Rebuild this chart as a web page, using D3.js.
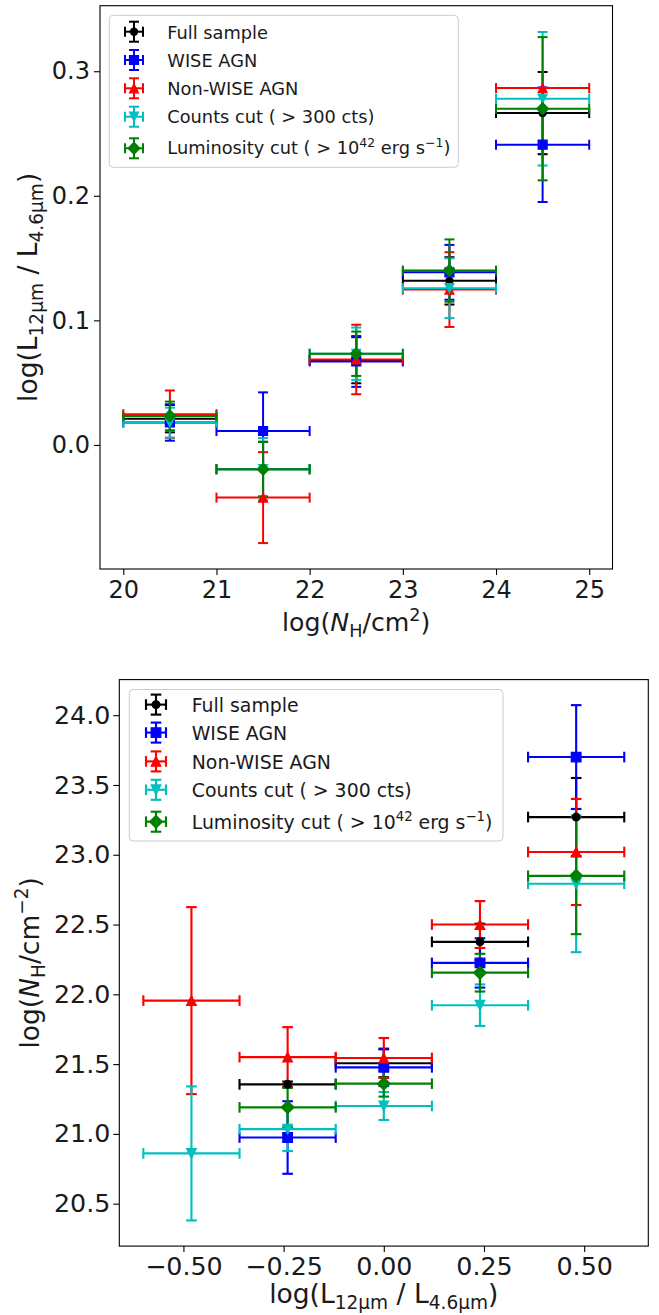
<!DOCTYPE html>
<html><head><meta charset="utf-8">
<script src="https://cdn.jsdelivr.net/npm/d3@7"></script>
<style>body{margin:0;background:#fff} svg{display:block} text{font-family:"DejaVu Sans",sans-serif}</style>
</head><body><svg id="c" width="659" height="1315"></svg>
<script>
// ---------- shared series definitions ----------
const seriesNames = ["Full sample", "WISE AGN", "Non-WISE AGN", "Counts cut", "Luminosity cut"];
const seriesColors = ["#000000", "#0000ff", "#ff0000", "#00bfbf", "#008000"];
const seriesMarkers = ["dot", "square", "triUp", "triDown", "diamond"];

// ---------- top panel: log(L12/L4.6) vs log NH ----------
const topXTicks = [20, 21, 22, 23, 24, 25];
const topYTicks = [0.0, 0.1, 0.2, 0.3];
const topNH = [20.5, 21.5, 22.5, 23.5, 24.5];
const topNHErr = [0.5, 0.5, 0.5, 0.5, 0.5];
const topFull = [0.0211, -0.0195, 0.0680, 0.1317, 0.2664];
const topFullErr = [0.0110, 0.0220, 0.0185, 0.0190, 0.0330];
const topWise = [0.0180, 0.0112, 0.0670, 0.1386, 0.2410];
const topWiseErr = [0.0146, 0.0310, 0.0204, 0.0220, 0.0460];
const topNonWise = [0.0247, -0.0423, 0.0686, 0.1247, 0.2865];
const topNonWiseErr = [0.0190, 0.0365, 0.0279, 0.0300, 0.0];
const topCounts = [0.0179, -0.0195, 0.0732, 0.1258, 0.2779];
const topCountsErr = [0.0120, 0.0250, 0.0210, 0.0240, 0.0536];
const topLum = [0.0233, -0.0195, 0.0732, 0.1400, 0.2699];
const topLumErr = [0.0115, 0.0220, 0.0178, 0.0250, 0.0575];

// ---------- bottom panel: log NH vs log(L12/L4.6) ----------
const botXTicks = [-0.5, -0.25, 0.0, 0.25, 0.5];
const botYTicks = [20.5, 21.0, 21.5, 22.0, 22.5, 23.0, 23.5, 24.0];
const botXFull = [-0.24, 0.0, 0.24, 0.48];
const botFull = [21.355, 21.506, 22.376, 23.270];
const botFullErr = [0.02, 0.10, 0.13, 0.28];
const botXWise = [-0.24, 0.0, 0.24, 0.48];
const botWise = [20.974, 21.477, 22.225, 23.700];
const botWiseErr = [0.260, 0.134, 0.177, 0.372];
const botXNonWise = [-0.48, -0.24, 0.0, 0.24, 0.48];
const botNonWise = [21.955, 21.550, 21.544, 22.500, 23.020];
const botNonWiseErr = [0.670, 0.215, 0.143, 0.168, 0.380];
const botXCounts = [-0.48, -0.24, 0.0, 0.24, 0.48];
const botCounts = [20.860, 21.034, 21.200, 21.922, 22.792];
const botCountsErr = [0.480, 0.157, 0.100, 0.149, 0.490];
const botXLum = [-0.24, 0.0, 0.24, 0.48];
const botLum = [21.190, 21.360, 22.155, 22.849];
const botLumErr = [0.140, 0.093, 0.135, 0.418];
const botXErr = 0.12;

const svg = d3.select("#c");

function rich(textSel, parts, fs) {
  let cur = 0;
  parts.forEach(p => {
    const ts = textSel.append("tspan").text(p.t);
    let shift = 0, size = fs;
    if (p.sub) { shift = 0.22 * fs; size = 0.7 * fs; }
    if (p.sup) { shift = -0.40 * fs; size = 0.7 * fs; }
    ts.attr("font-size", size);
    if (shift - cur !== 0) ts.attr("dy", shift - cur);
    cur = shift;
    if (p.it) ts.attr("font-style", "italic");
  });
}

function markerPath(kind, s) {
  if (kind === "square") { const h = s / 2; return `M${-h},${-h}H${h}V${h}H${-h}Z`; }
  if (kind === "triUp") { const h = s / 2; return `M0,${-h}L${h},${h}L${-h},${h}Z`; }
  if (kind === "triDown") { const h = s / 2; return `M0,${h}L${h},${-h}L${-h},${-h}Z`; }
  if (kind === "diamond") { const h = s * 0.66; return `M0,${-h}L${h},0L0,${h}L${-h},0Z`; }
  const r = s * 0.4; return `M${-r},0A${r},${r} 0 1,0 ${r},0A${r},${r} 0 1,0 ${-r},0Z`;
}

function legendLabelParts(i) {
  if (i === 3) return [{t: "Counts cut ( > 300 cts)"}];
  if (i === 4) return [{t: "Luminosity cut ( > 10"}, {t: "42", sup: true}, {t: " erg s"}, {t: "\u22121", sup: true}, {t: ")"}];
  return [{t: seriesNames[i]}];
}

function panel(cfg) {
  const g = svg.append("g");
  const x = d3.scaleLinear().domain(cfg.xDomain).range([cfg.left, cfg.right]);
  const y = d3.scaleLinear().domain(cfg.yDomain).range([cfg.bottom, cfg.top]);
  const sc = cfg.scale;
  const lw = 2.0 * sc, cap = 5 * sc, msize = 9 * sc;

  const xAxis = g.append("g").attr("transform", `translate(0,${cfg.bottom})`)
    .call(d3.axisBottom(x).tickValues(cfg.xTicks).tickSize(6).tickPadding(cfg.xPad).tickFormat(cfg.xFmt));
  const yAxis = g.append("g").attr("transform", `translate(${cfg.left},0)`)
    .call(d3.axisLeft(y).tickValues(cfg.yTicks).tickSize(6).tickPadding(cfg.yPad).tickFormat(cfg.yFmt));
  [xAxis, yAxis].forEach(a => {
    a.select(".domain").remove();
    a.selectAll("line").attr("stroke", "#000").attr("stroke-width", 1.1);
    a.selectAll("text").attr("font-size", cfg.tickFs).attr("fill", "#1a1a1a")
      .attr("font-family", "DejaVu Sans");
  });

  const S = cfg.series;
  S.forEach((s, i) => {
    const col = seriesColors[i];
    const eg = g.append("g").attr("stroke", col).attr("stroke-width", lw).attr("fill", "none");
    s.x.forEach((xv, j) => {
      const yv = s.y[j], xe = s.xe[j], ye = s.ye[j];
      const px = x(xv), py = y(yv);
      const x0 = x(xv - xe), x1 = x(xv + xe), y0 = y(yv - ye), y1 = y(yv + ye);
      eg.append("line").attr("x1", x0).attr("x2", x1).attr("y1", py).attr("y2", py);
      eg.append("line").attr("x1", px).attr("x2", px).attr("y1", y0).attr("y2", y1);
      eg.append("line").attr("x1", x0).attr("x2", x0).attr("y1", py - cap).attr("y2", py + cap);
      eg.append("line").attr("x1", x1).attr("x2", x1).attr("y1", py - cap).attr("y2", py + cap);
      eg.append("line").attr("x1", px - cap).attr("x2", px + cap).attr("y1", y0).attr("y2", y0);
      eg.append("line").attr("x1", px - cap).attr("x2", px + cap).attr("y1", y1).attr("y2", y1);
    });
  });
  S.forEach((s, i) => {
    const col = seriesColors[i];
    g.append("g").selectAll("path").data(s.x.map((xv, j) => [xv, s.y[j]])).join("path")
      .attr("d", markerPath(seriesMarkers[i], msize))
      .attr("transform", d => `translate(${x(d[0])},${y(d[1])})`)
      .attr("fill", col).attr("stroke", col).attr("stroke-width", 1.2 * sc);
  });

  g.append("rect").attr("x", cfg.left).attr("y", cfg.top)
    .attr("width", cfg.right - cfg.left).attr("height", cfg.bottom - cfg.top)
    .attr("fill", "none").attr("stroke", "#000").attr("stroke-width", 1.1);

  const L = cfg.legend;
  g.append("rect").attr("x", L.x0).attr("y", L.y0).attr("width", L.x1 - L.x0).attr("height", L.y1 - L.y0)
    .attr("rx", 4).attr("fill", "#fff").attr("fill-opacity", 0.8).attr("stroke", "#cccccc").attr("stroke-width", 1);
  seriesNames.forEach((n, i) => {
    const col = seriesColors[i];
    const hy = L.rows[i], hx = L.hx;
    const lg = g.append("g").attr("stroke", col).attr("stroke-width", lw).attr("fill", "none");
    lg.append("line").attr("x1", hx - L.hw).attr("x2", hx + L.hw).attr("y1", hy).attr("y2", hy);
    lg.append("line").attr("x1", hx).attr("x2", hx).attr("y1", hy - L.vh).attr("y2", hy + L.vh);
    lg.append("line").attr("x1", hx - L.hw).attr("x2", hx - L.hw).attr("y1", hy - cap).attr("y2", hy + cap);
    lg.append("line").attr("x1", hx + L.hw).attr("x2", hx + L.hw).attr("y1", hy - cap).attr("y2", hy + cap);
    lg.append("line").attr("x1", hx - cap).attr("x2", hx + cap).attr("y1", hy - L.vh).attr("y2", hy - L.vh);
    lg.append("line").attr("x1", hx - cap).attr("x2", hx + cap).attr("y1", hy + L.vh).attr("y2", hy + L.vh);
    g.append("path").attr("d", markerPath(seriesMarkers[i], msize)).attr("transform", `translate(${hx},${hy})`)
      .attr("fill", col).attr("stroke", col).attr("stroke-width", 1.2 * sc);
    const t = g.append("text").attr("x", L.tx).attr("y", L.base[i]).attr("fill", "#1a1a1a");
    rich(t, legendLabelParts(i), L.fs);
  });

  const xl = g.append("text").attr("x", (cfg.left + cfg.right) / 2).attr("y", cfg.xLabelY)
    .attr("text-anchor", "middle").attr("fill", "#1a1a1a");
  rich(xl, cfg.xLabel, cfg.xLabelFs);
  const yl = g.append("text").attr("transform", `translate(${cfg.yLabelX},${(cfg.top + cfg.bottom) / 2}) rotate(-90)`)
    .attr("text-anchor", "middle").attr("fill", "#1a1a1a");
  rich(yl, cfg.yLabel, cfg.yLabelFs);
}

const ratioLabel = [{t: "log(L"}, {t: "12\u03bcm", sub: true}, {t: " / L"}, {t: "4.6\u03bcm", sub: true}, {t: ")"}];

panel({
  left: 100, right: 612.5, top: 5.7, bottom: 569,
  xDomain: [19.75, 25.25], yDomain: [-0.0996, 0.3526],
  xTicks: topXTicks, yTicks: topYTicks,
  xFmt: d3.format("d"), yFmt: d3.format(".1f"),
  xPad: 6, yPad: 4, tickFs: 24, xLabelFs: 25.2, yLabelFs: 26.5, scale: 1.0,
  xLabelY: 631, yLabelX: 37,
  xLabel: [{t: "log("}, {t: "N", it: true}, {t: "H", sub: true}, {t: "/cm"}, {t: "2", sup: true}, {t: ")"}],
  yLabel: ratioLabel,
  series: [
    {x: topNH, xe: topNHErr, y: topFull, ye: topFullErr},
    {x: topNH, xe: topNHErr, y: topWise, ye: topWiseErr},
    {x: topNH, xe: topNHErr, y: topNonWise, ye: topNonWiseErr},
    {x: topNH, xe: topNHErr, y: topCounts, ye: topCountsErr},
    {x: topNH, xe: topNHErr, y: topLum, ye: topLumErr}
  ],
  legend: {x0: 109.3, x1: 458.3, y0: 15.3, y1: 167.3, hx: 134, hw: 9, vh: 10, tx: 167.3, fs: 17.8,
    rows: [31.7, 60, 88.3, 116.7, 148.3], base: [39, 66.8, 95, 123, 154]}
});

const mkX = (xs) => xs.map(() => botXErr);
panel({
  left: 119.3, right: 648.3, top: 679.6, bottom: 1246.1,
  xDomain: [-0.66, 0.66], yDomain: [20.196, 24.255],
  xTicks: botXTicks, yTicks: botYTicks,
  xFmt: d3.format(".2f"), yFmt: d3.format(".1f"),
  xPad: 5, yPad: 3, tickFs: 25.3, xLabelFs: 26.5, yLabelFs: 26.5, scale: 1.065,
  xLabelY: 1303, yLabelX: 39,
  xLabel: ratioLabel,
  yLabel: [{t: "log("}, {t: "N", it: true}, {t: "H", sub: true}, {t: "/cm"}, {t: "\u22122", sup: true}, {t: ")"}],
  series: [
    {x: botXFull, xe: mkX(botXFull), y: botFull, ye: botFullErr},
    {x: botXWise, xe: mkX(botXWise), y: botWise, ye: botWiseErr},
    {x: botXNonWise, xe: mkX(botXNonWise), y: botNonWise, ye: botNonWiseErr},
    {x: botXCounts, xe: mkX(botXCounts), y: botCounts, ye: botCountsErr},
    {x: botXLum, xe: mkX(botXLum), y: botLum, ye: botLumErr}
  ],
  legend: {x0: 129.3, x1: 503, y0: 689.5, y1: 841, hx: 156, hw: 10, vh: 10, tx: 191.7, fs: 18.9,
    rows: [704.6, 732.6, 761.4, 789.8, 821.7], base: [712, 740.2, 768.5, 797, 828.6]}
});
</script></body></html>
